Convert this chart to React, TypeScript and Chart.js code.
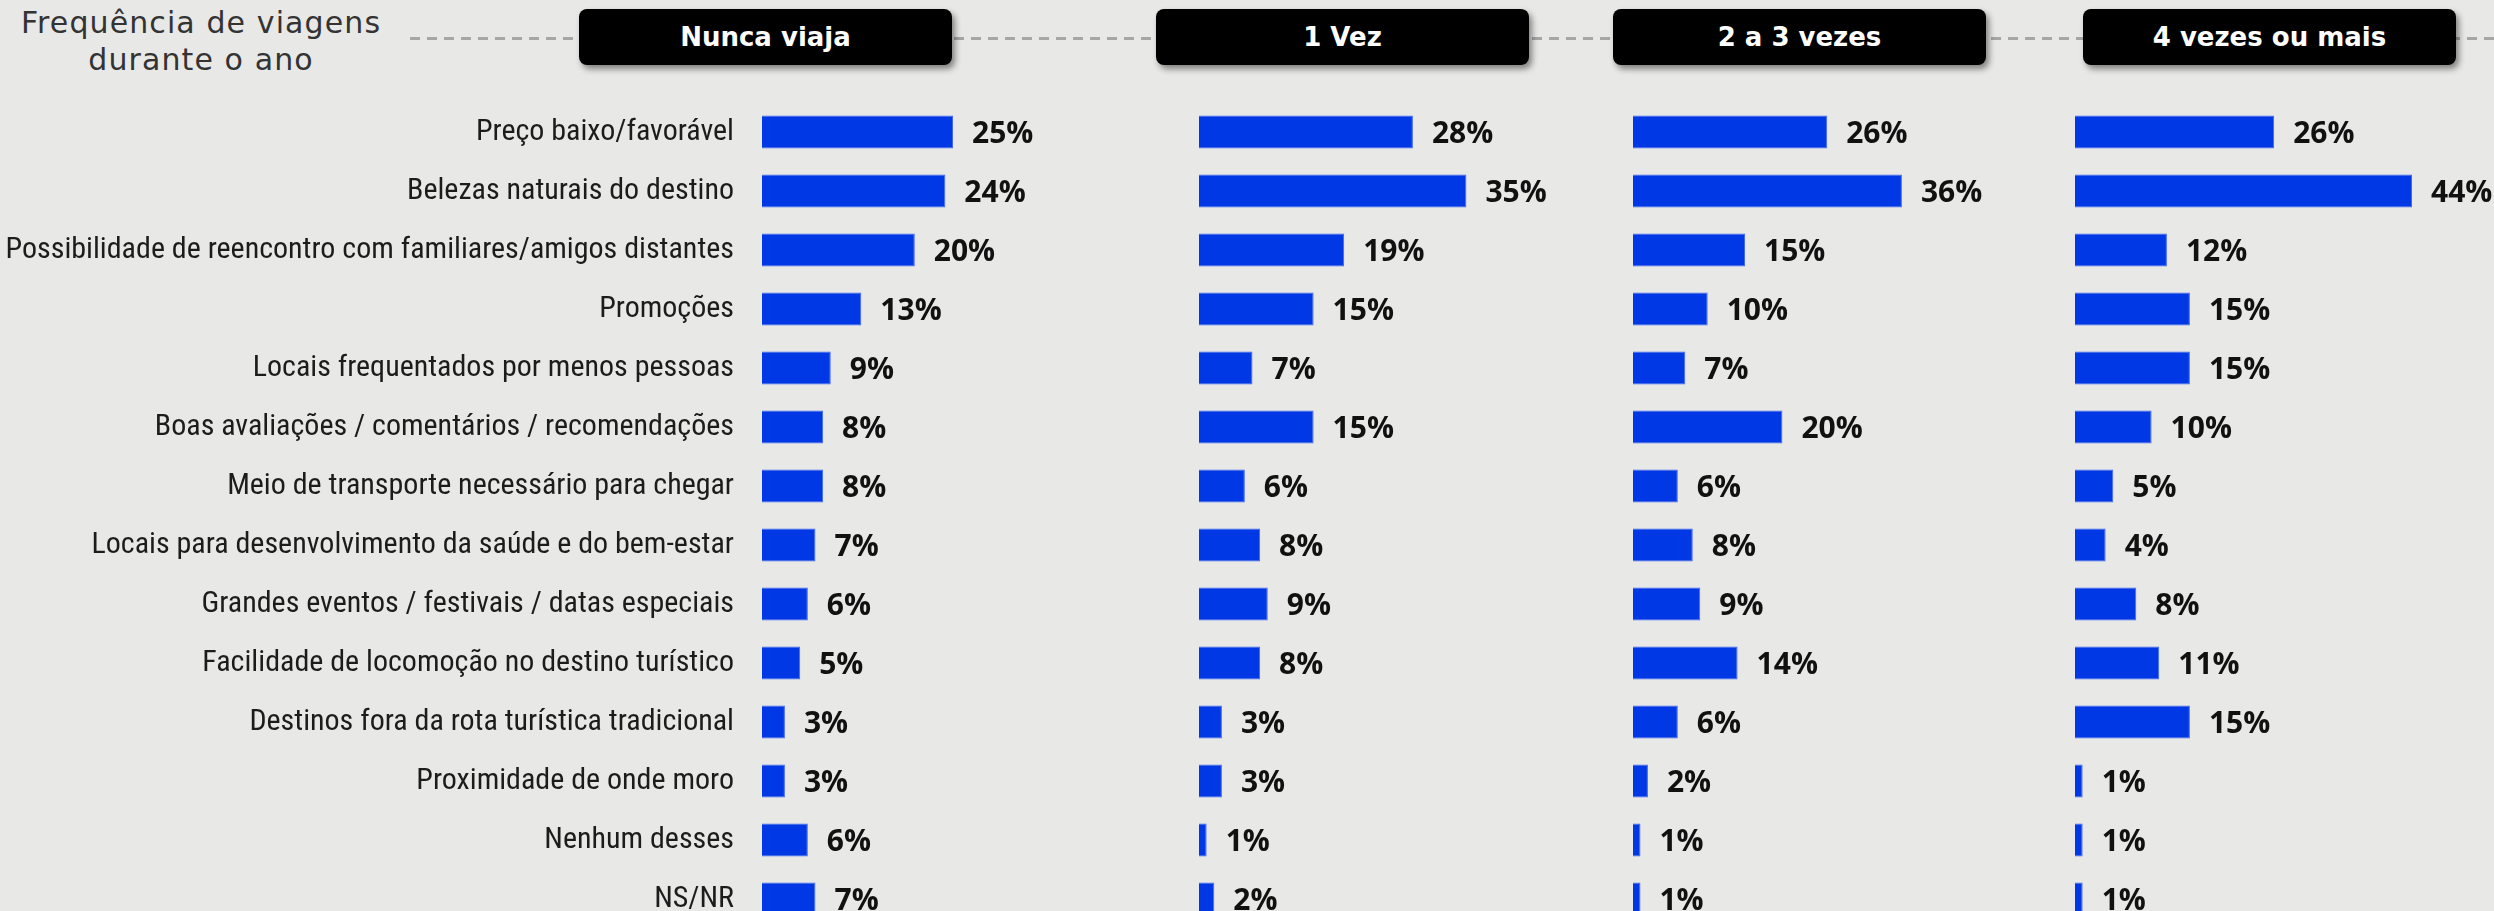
import React, { useEffect, useRef } from "react";
import { Chart, registerables } from "chart.js";

Chart.register(...registerables);

// ---------- data ----------
const CATEGORIES = [
  "Preço baixo/favorável",
  "Belezas naturais do destino",
  "Possibilidade de reencontro com familiares/amigos distantes",
  "Promoções",
  "Locais frequentados por menos pessoas",
  "Boas avaliações / comentários / recomendações",
  "Meio de transporte necessário para chegar",
  "Locais para desenvolvimento da saúde e do bem-estar",
  "Grandes eventos / festivais / datas especiais",
  "Facilidade de locomoção no destino turístico",
  "Destinos fora da rota turística tradicional",
  "Proximidade de onde moro",
  "Nenhum desses",
  "NS/NR",
];

const NUNCA_VIAJA = [25, 24, 20, 13, 9, 8, 8, 7, 6, 5, 3, 3, 6, 7];
const UMA_VEZ = [28, 35, 19, 15, 7, 15, 6, 8, 9, 8, 3, 3, 1, 2];
const DUAS_A_TRES = [26, 36, 15, 10, 7, 20, 6, 8, 9, 14, 6, 2, 1, 1];
const QUATRO_OU_MAIS = [26, 44, 12, 15, 15, 10, 5, 4, 8, 11, 15, 1, 1, 1];

const PANEL_TITLES = ["Nunca viaja", "1 Vez", "2 a 3 vezes", "4 vezes ou mais"];
const TITLE_LINES = ["Frequência de viagens", "durante o ano"];

// ---------- layout ----------
const X_MAX = 50;
const ROW_H = 59;
const CANVAS_H = 1000;
const PLOT_TOP = 102.5;
const BAR_COLOR = "#0038e6";

const valueLabelPlugin = {
  id: "valueLabels",
  afterDatasetsDraw(chart: any) {
    const ctx = chart.ctx;
    const meta = chart.getDatasetMeta(0);
    const data = chart.data.datasets[0].data;
    ctx.save();
    ctx.font = "bold 30px 'Open Sans'";
    ctx.fillStyle = "#111111";
    ctx.textAlign = "left";
    ctx.textBaseline = "middle";
    meta.data.forEach((bar: any, i: number) => {
      ctx.fillText(`${data[i]}%`, bar.x + 19, bar.y + 2);
    });
    ctx.restore();
  },
};

type PanelProps = {
  values: number[];
  left: number;
  width: number;
  yWidth: number;
  pxPerPct: number;
  showLabels: boolean;
};

function BarPanel({ values, left, width, yWidth, pxPerPct, showLabels }: PanelProps) {
  const ref = useRef<HTMLCanvasElement>(null);
  useEffect(() => {
    const areaW = pxPerPct * X_MAX;
    const chart = new Chart(ref.current as HTMLCanvasElement, {
      type: "bar",
      data: {
        labels: CATEGORIES,
        datasets: [
          {
            data: values,
            backgroundColor: BAR_COLOR,
            borderColor: "#3f66ef",
            borderWidth: 1,
            categoryPercentage: 1,
            barPercentage: 33 / ROW_H,
          },
        ],
      },
      options: {
        indexAxis: "y",
        responsive: false,
        animation: false,
        devicePixelRatio: 1,
        layout: {
          padding: {
            top: PLOT_TOP,
            bottom: CANVAS_H - PLOT_TOP - ROW_H * CATEGORIES.length,
            left: 0,
            right: width - yWidth - areaW,
          },
        },
        plugins: { legend: { display: false }, tooltip: { enabled: false } },
        scales: {
          x: { display: false, min: 0, max: X_MAX },
          y: {
            display: showLabels,
            afterFit: (s: any) => {
              s.width = yWidth;
            },
            grid: { display: false, drawTicks: false },
            border: { display: false },
            ticks: {
              padding: 28,
              color: "#1c1c1c",
              font: { family: "'Liberation Sans Narrow', 'Roboto Condensed', Roboto, sans-serif", size: 30 },
            },
          },
        },
      } as any,
      plugins: [valueLabelPlugin],
    });
    return () => chart.destroy();
  }, []);
  return (
    <canvas
      ref={ref}
      width={width}
      height={CANVAS_H}
      style={{ position: "absolute", left, top: 0, display: "block" }}
    />
  );
}

const HEADER_LEFTS = [579, 1156, 1613, 2083];

export default function App() {
  return (
    <div
      style={{
        position: "fixed",
        left: 0,
        top: 0,
        width: "100vw",
        height: "100vh",
        overflow: "hidden",
        background: "#e8e8e7",
      }}
    >
      {/* dashed connector line */}
      <div
        style={{
          position: "absolute",
          left: 410,
          top: 37,
          width: 2090,
          height: 3,
          background: "repeating-linear-gradient(to right, #a6a6a6 0 10px, transparent 10px 17px)",
        }}
      />
      {/* title */}
      <div
        style={{
          position: "absolute",
          left: 6,
          top: 4,
          width: 390,
          textAlign: "center",
          fontFamily: "'DejaVu Sans', sans-serif",
          fontSize: 30,
          letterSpacing: 1.1,
          lineHeight: "37px",
          color: "#333333",
        }}
      >
        {TITLE_LINES.map((t) => (
          <div key={t}>{t}</div>
        ))}
      </div>
      {/* panel headers */}
      {PANEL_TITLES.map((t, i) => (
        <div
          key={t}
          style={{
            position: "absolute",
            left: HEADER_LEFTS[i],
            top: 9,
            width: 373,
            height: 56,
            borderRadius: 8,
            background: "#000",
            boxShadow: "3px 4px 6px rgba(0,0,0,0.45)",
            color: "#fff",
            display: "flex",
            alignItems: "center",
            justifyContent: "center",
            fontFamily: "'DejaVu Sans', sans-serif",
            fontWeight: 700,
            fontSize: 26,
          }}
        >
          {t}
        </div>
      ))}
      <BarPanel values={NUNCA_VIAJA} left={0} width={1230} yWidth={762} pxPerPct={7.64} showLabels={true} />
      <BarPanel values={UMA_VEZ} left={1199} width={460} yWidth={0} pxPerPct={7.64} showLabels={false} />
      <BarPanel values={DUAS_A_TRES} left={1633} width={450} yWidth={0} pxPerPct={7.47} showLabels={false} />
      <BarPanel values={QUATRO_OU_MAIS} left={2075} width={430} yWidth={0} pxPerPct={7.66} showLabels={false} />
    </div>
  );
}
